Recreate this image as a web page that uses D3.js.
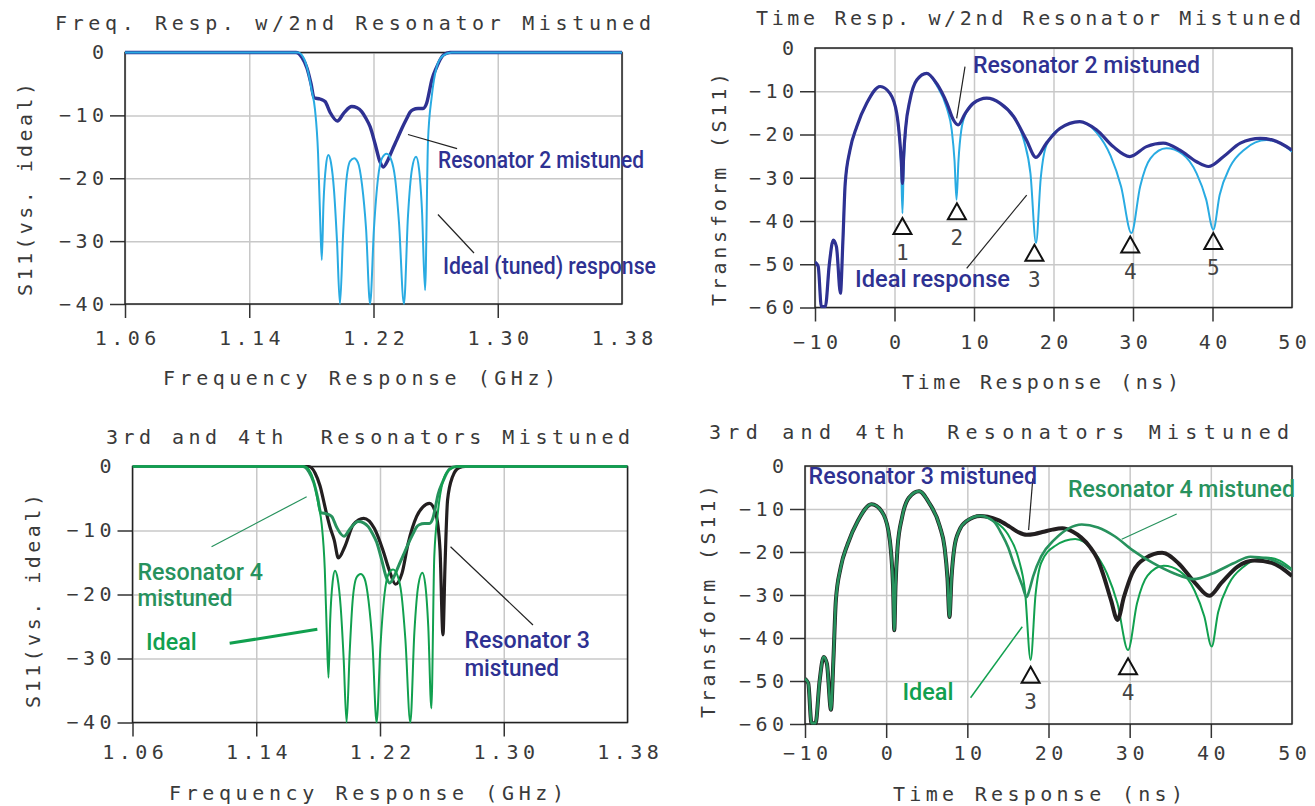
<!DOCTYPE html>
<html>
<head>
<meta charset="utf-8">
<script src="https://cdn.jsdelivr.net/npm/d3@7"></script>
<style>
  body { margin: 0; background: #fff; }
  svg { display: block; }
</style>
</head>
<body>
<script>
// ---- values ----
const freqTicks = [1.06, 1.14, 1.22, 1.30, 1.38];
const freqTickLabels = ["1.06", "1.14", "1.22", "1.30", "1.38"];
const timeTicks = [-10, 0, 10, 20, 30, 40, 50];
const timeTickLabels = ["\u221210", "0", "10", "20", "30", "40", "50"];
const dbTicksFreq = [0, -10, -20, -30, -40];
const dbTicksTime = [0, -10, -20, -30, -40, -50, -60];
const dbLabelsFreq = ["0", "\u221210", "\u221220", "\u221230", "\u221240"];
const dbLabelsTime = ["0", "\u221210", "\u221220", "\u221230", "\u221240", "\u221250", "\u221260"];

// frequency response [GHz, dB]
const freqIdeal = [
  [1.06, 0], [1.1714, 0], [1.1753, -1], [1.1778, -3], [1.1802, -6], [1.1823, -9], [1.1843, -16],
  [1.1856, -26], [1.1867, -33], [1.1878, -24], [1.1894, -18], [1.1909, -16.3], [1.1926, -17.5],
  [1.1946, -22], [1.1965, -30], [1.1984, -40], [1.2004, -29], [1.2023, -21], [1.2049, -17.3],
  [1.2075, -16.8], [1.2100, -17.5], [1.2126, -21], [1.2152, -28], [1.2178, -40], [1.2203, -28],
  [1.2229, -20], [1.2255, -16.8], [1.2285, -16.1], [1.2313, -17], [1.2339, -20], [1.2364, -27],
  [1.2396, -40], [1.2422, -26], [1.2448, -18.5], [1.2474, -16.6], [1.2493, -18.5], [1.2512, -25],
  [1.2532, -37.8], [1.2551, -14], [1.2575, -7], [1.2607, -2.3], [1.2648, -0.5], [1.2704, 0], [1.38, 0]
];
// one resonator mistuned (resonator 2 on top, resonator 4 below trace the same)
const freqMistuned = [
  [1.06, 0], [1.1701, 0], [1.1740, -0.8], [1.1772, -2.5], [1.1798, -5], [1.1817, -7.2], [1.1856, -7.4],
  [1.1888, -7.8], [1.1920, -9.5], [1.1967, -10.9], [1.2010, -9.6], [1.2060, -8.6], [1.2094, -8.8],
  [1.2124, -9.4], [1.2152, -10.5], [1.2178, -11.8], [1.2210, -14.5], [1.2242, -17.4], [1.2263, -18.2],
  [1.2293, -17.1], [1.2319, -15.6], [1.2350, -13.9], [1.2384, -12], [1.2414, -10.5], [1.2435, -9.5],
  [1.2454, -9.1], [1.2487, -8.9], [1.2519, -8.9], [1.2543, -8], [1.2557, -6.5], [1.2575, -4.4],
  [1.2607, -2.3], [1.2650, -0.4], [1.2693, 0], [1.38, 0]
];
const freqRes3 = [
  [1.06, 0], [1.1740, 0], [1.1780, -1], [1.1812, -3], [1.1849, -6.8], [1.1877, -9.5], [1.1904, -11.5],
  [1.1931, -14.3], [1.1973, -12.5], [1.2027, -9.1], [1.2095, -8.1], [1.2164, -9.7], [1.2218, -13],
  [1.2260, -16.2], [1.2300, -18.4], [1.2342, -16.7], [1.2382, -12], [1.2437, -7.8], [1.2478, -6.3],
  [1.2520, -5.75], [1.2560, -7.3], [1.2588, -13], [1.2607, -26.3], [1.2620, -15.7], [1.2637, -5.2],
  [1.2669, -1.6], [1.2711, -0.2], [1.2752, 0], [1.38, 0]
];

// time domain transform [ns, dB]
const timeEarly = [
  [-10, -49.5], [-9.6, -50.5], [-9.2, -59.8], [-8.7, -59.8], [-8.2, -50], [-7.7, -44.4], [-7.3, -46],
  [-6.8, -56.7], [-6.5, -45], [-6.2, -31.3], [-5.6, -23.6], [-4.75, -18.2], [-3.5, -12.8], [-1.8, -8.9],
  [-0.57, -10.5], [0.28, -15.1], [0.6, -20], [0.85, -28], [1.0, -38.2], [1.15, -28], [1.4, -19],
  [1.95, -12], [2.8, -7.4], [4.05, -5.85], [5.3, -8.6], [6.6, -14], [7.2, -19], [7.55, -26], [7.8, -35.1],
  [8.05, -26], [8.4, -19], [9, -15], [9.9, -12.8], [11.6, -11.6]
];
const timeIdealLate = [
  [13.3, -12.8], [15, -15.9], [16.3, -21.5], [17.1, -29], [17.8, -45.1], [18.4, -30], [19.1, -22.5],
  [20.8, -18.6], [23.3, -17], [25.4, -19.5], [27.2, -25], [28.5, -32], [29.8, -42.8], [30.9, -32],
  [32.2, -25.5], [34.2, -23.2], [36.2, -24.5], [38, -29], [39.2, -35], [40.1, -42], [40.9, -34],
  [42.2, -27.5], [44, -23.5], [46.8, -21.3], [48.5, -22], [50, -24]
];
const timeRes2 = [
  [-10, -49.5], [-9.6, -50.5], [-9.2, -59.8], [-8.7, -59.8], [-8.2, -50], [-7.7, -44.4], [-7.3, -46],
  [-6.8, -56.7], [-6.5, -45], [-6.2, -31.3], [-5.6, -23.6], [-4.75, -18.2], [-3.5, -12.8], [-1.8, -8.9],
  [-0.57, -10.5], [0.28, -15.1], [0.6, -20], [0.85, -26], [1.0, -31.3], [1.15, -25], [1.4, -18.5],
  [1.95, -12], [2.8, -7.4], [4.05, -5.85], [5.3, -8.2], [6.6, -12.8], [7.4, -16.6], [8.0, -17.8],
  [8.9, -15.1], [9.9, -12.8], [11.6, -11.6], [13.3, -12.8], [15, -15.9], [16.6, -21.3], [17.8, -25.3],
  [19.1, -22], [20.8, -18.6], [23.3, -17], [25.4, -18.9], [27.5, -22.8], [29.6, -25.1], [31.7, -22.8],
  [33.8, -22], [35.9, -23.6], [38, -26.3], [39.5, -27.4], [41.4, -25.1], [43.5, -22], [46, -20.9],
  [47.6, -21.3], [50, -23.6]
];
const timeRes3Late = [
  [12.5, -11.8], [13.8, -12.6], [15.2, -14.1], [16.3, -15.4], [17.3, -16], [18.3, -15.8], [19.4, -15.3],
  [20.5, -14.8], [21.7, -14.5], [23, -15.3], [24, -16.6], [25.1, -18.8], [26, -21.5], [26.7, -25],
  [27.7, -31.2], [28.5, -35.8], [29.3, -30.4], [30.3, -25], [31.9, -21.5], [34, -20.2], [36, -22.6],
  [38.1, -27.3], [39.8, -30.2], [41.3, -27.2], [43.3, -23.4], [45.4, -22], [47.5, -22.5], [50, -25.6]
];
const timeRes4Late = [
  [12.6, -12.1], [13.4, -13.2], [14.2, -15.7], [15, -18.8], [15.7, -22.6], [16.3, -25.5], [16.8, -28],
  [17.3, -30.5], [17.7, -28.5], [18.1, -25.7], [19.1, -21], [20.7, -17.2], [22.5, -14.5], [24.1, -13.6],
  [26.1, -14.3], [28.2, -16.4], [30.3, -19.5], [32.9, -22.6], [35.5, -25], [37.9, -26.3], [40.2, -25],
  [42.8, -22.6], [44.9, -21.1], [47, -21.5], [50, -24.2]
];
const timeIdeal = timeEarly.concat(timeIdealLate);

// null markers (time of null, dB of triangle tip)
const markerTimesTop = [1.0, 7.85, 17.6, 29.65, 40.1];
const markerDbTop = [-39.3, -35.9, -45.5, -43.6, -42.8];
const markerLabelsTop = ["1", "2", "3", "4", "5"];
const markerTimesBottom = [17.8, 29.8];
const markerDbBottom = [-46.7, -44.7];
const markerLabelsBottom = ["3", "4"];

// ---- drawing ----
const width = 1315, height = 806;
const monoFont = "'DejaVu Sans Mono', 'Liberation Mono', monospace";
const noteFont = "'Liberation Sans Narrow', 'Roboto', sans-serif";
const LS = 4.5; // plotter-style letter spacing

const NAVY = "#2e3192", SKY = "#29abe2", BLACK = "#231f20";
const GREEN = "#11a04f", GREEN_DK = "#27925d";
const INK = "#3a3a3a";

const svg = d3.select("body").append("svg")
  .attr("width", width)
  .attr("height", height);

let clipId = 0;

function drawPanel(cfg) {
  const x = d3.scaleLinear().domain(cfg.xDomain).range([cfg.left, cfg.right]);
  const y = d3.scaleLinear().domain(cfg.yDomain).range([cfg.top, cfg.bottom]);
  const g = svg.append("g");

  // grid lines
  g.append("g")
    .attr("transform", `translate(${cfg.left},0)`)
    .call(d3.axisRight(y).tickValues(cfg.yTicks).tickSize(cfg.right - cfg.left).tickFormat(""))
    .call(a => a.select(".domain").remove())
    .call(a => a.selectAll(".tick line").attr("stroke", "#c8c8c8").attr("stroke-width", 1.5));
  g.append("g")
    .attr("transform", `translate(0,${cfg.bottom})`)
    .call(d3.axisTop(x).tickValues(cfg.xTicks).tickSize(cfg.bottom - cfg.top).tickFormat(""))
    .call(a => a.select(".domain").remove())
    .call(a => a.selectAll(".tick line").attr("stroke", "#c8c8c8").attr("stroke-width", 1.5));

  // axes with outward ticks
  g.append("g")
    .attr("transform", `translate(${cfg.left},0)`)
    .call(d3.axisLeft(y).tickValues(cfg.yTicks).tickFormat((d, i) => cfg.yLabels[i])
      .tickSize(15).tickPadding(6 - LS))
    .call(a => a.select(".domain").remove())
    .call(a => a.selectAll(".tick line").attr("stroke", "#333").attr("stroke-width", 1.5)
      .filter(d => d === cfg.yTicks[0]).remove())
    .call(a => a.selectAll(".tick text")
      .attr("font-family", monoFont).attr("font-size", 20)
      .attr("letter-spacing", LS).attr("fill", INK));
  g.append("g")
    .attr("transform", `translate(0,${cfg.bottom})`)
    .call(d3.axisBottom(x).tickValues(cfg.xTicks).tickFormat((d, i) => cfg.xLabels[i])
      .tickSize(14).tickPadding(cfg.xPad))
    .call(a => a.select(".domain").remove())
    .call(a => a.selectAll(".tick line").attr("stroke", "#333").attr("stroke-width", 1.5)
      .filter(d => d === cfg.xTicks[cfg.xTicks.length - 1]).remove())
    .call(a => a.selectAll(".tick text")
      .attr("font-family", monoFont).attr("font-size", 20)
      .attr("letter-spacing", LS).attr("dx", LS / 2).attr("fill", INK));

  // frame
  g.append("rect")
    .attr("x", cfg.left).attr("y", cfg.top)
    .attr("width", cfg.right - cfg.left).attr("height", cfg.bottom - cfg.top)
    .attr("fill", "none").attr("stroke", "#222").attr("stroke-width", 1.5);

  // curves
  const id = "clip" + (clipId++);
  g.append("clipPath").attr("id", id)
    .append("rect")
    .attr("x", cfg.left).attr("y", cfg.top - 3)
    .attr("width", cfg.right - cfg.left).attr("height", cfg.bottom - cfg.top + 4);
  const line = d3.line()
    .x(d => x(d[0]))
    .y(d => y(d[1]))
    .curve(d3.curveMonotoneX);
  g.append("g").attr("clip-path", `url(#${id})`)
    .selectAll("path")
    .data(cfg.series)
    .join("path")
      .attr("d", d => line(d.values))
      .attr("fill", "none")
      .attr("stroke", d => d.color)
      .attr("stroke-width", d => d.width)
      .attr("stroke-linejoin", "round");

  // leader lines
  g.append("g").selectAll("line")
    .data(cfg.leaders)
    .join("line")
      .attr("x1", d => x(d.x1)).attr("y1", d => y(d.y1))
      .attr("x2", d => x(d.x2)).attr("y2", d => y(d.y2))
      .attr("stroke", d => d.color)
      .attr("stroke-width", d => d.width);

  // null markers
  const mk = g.append("g").selectAll("g")
    .data(cfg.markers)
    .join("g")
      .attr("transform", d => `translate(${x(d.t)},${y(d.db)})`);
  mk.append("path")
    .attr("d", "M0,0L9,16L-9,16Z")
    .attr("fill", "none")
    .attr("stroke", "#111")
    .attr("stroke-width", 2)
    .attr("stroke-linejoin", "miter");
  mk.append("text")
    .attr("y", 42)
    .attr("text-anchor", "middle")
    .attr("font-family", monoFont)
    .attr("font-size", 21)
    .attr("fill", "#444")
    .text(d => d.label);

  // callout texts
  g.append("g").selectAll("text")
    .data(cfg.notes)
    .join("text")
      .attr("x", d => x(d.x)).attr("y", d => y(d.y))
      .attr("textLength", d => d.w)
      .attr("lengthAdjust", "spacingAndGlyphs")
      .attr("font-family", noteFont)
      .attr("font-size", 23)
      .attr("font-weight", 500)
      .attr("fill", d => d.color)
      .text(d => d.text);

  // title and axis titles
  const plain = (t, px, py, len, rot) => g.append("text")
    .attr("transform", rot ? `translate(${px},${py}) rotate(-90)` : `translate(${px},${py})`)
    .attr("textLength", len)
    .attr("lengthAdjust", "spacing")
    .attr("font-family", monoFont)
    .attr("font-size", 20)
    .attr("fill", INK)
    .style("white-space", "pre")
    .text(t);
  plain(cfg.title, cfg.titlePos[0], cfg.titlePos[1], cfg.titlePos[2]);
  plain(cfg.xTitle, cfg.xTitlePos[0], cfg.xTitlePos[1], cfg.xTitlePos[2]);
  plain(cfg.yTitle, cfg.yTitlePos[0], cfg.yTitlePos[1], cfg.yTitlePos[2], true);
}

const mkMarkers = (ts, dbs, labels) => ts.map((t, i) => ({ t: t, db: dbs[i], label: labels[i] }));

// top left: frequency response, resonator 2 mistuned
drawPanel({
  left: 125, right: 622, top: 52.5, bottom: 304, xPad: 13,
  xDomain: [1.06, 1.38], yDomain: [0, -40],
  xTicks: freqTicks, xLabels: freqTickLabels, yTicks: dbTicksFreq, yLabels: dbLabelsFreq,
  series: [
    { values: freqMistuned, color: NAVY, width: 3.4 },
    { values: freqIdeal, color: SKY, width: 2 }
  ],
  leaders: [
    { x1: 1.2422, y1: -13.04, x2: 1.2738, y2: -15.28, color: "#222", width: 1.2 },
    { x1: 1.2615, y1: -25.77, x2: 1.2847, y2: -31.89, color: "#222", width: 1.2 }
  ],
  markers: [],
  notes: [
    { text: "Resonator 2 mistuned", x: 1.2615, y: -18.37, w: 206, color: NAVY },
    { text: "Ideal (tuned) response", x: 1.2647, y: -35.23, w: 213, color: NAVY }
  ],
  title: "Freq. Resp. w/2nd Resonator Mistuned", titlePos: [55, 30, 596],
  xTitle: "Frequency Response (GHz)", xTitlePos: [163, 385, 393],
  yTitle: "S11(vs. ideal)", yTitlePos: [32, 296, 213]
});

// top right: time response, resonator 2 mistuned
drawPanel({
  left: 815, right: 1292, top: 48, bottom: 307.5, xPad: 13,
  xDomain: [-10, 50], yDomain: [0, -60],
  xTicks: timeTicks, xLabels: timeTickLabels, yTicks: dbTicksTime, yLabels: dbLabelsTime,
  series: [
    { values: timeIdeal, color: SKY, width: 2 },
    { values: timeRes2, color: NAVY, width: 3.2 }
  ],
  leaders: [
    { x1: 8.87, y1: -4.32, x2: 7.82, y2: -16.25, color: "#222", width: 1.2 },
    { x1: 9.08, y1: -50.94, x2: 16.63, y2: -33.99, color: "#222", width: 1.2 }
  ],
  markers: mkMarkers(markerTimesTop, markerDbTop, markerLabelsTop),
  notes: [
    { text: "Resonator 2 mistuned", x: 9.87, y: -5.78, w: 227, color: NAVY },
    { text: "Ideal response", x: -4.97, y: -55.26, w: 155, color: NAVY }
  ],
  title: "Time Resp. w/2nd Resonator Mistuned", titlePos: [756, 25, 545],
  xTitle: "Time Response (ns)", xTitlePos: [902, 389, 277],
  yTitle: "Transform (S11)", yTitlePos: [726, 306, 233]
});

// bottom left: frequency response, resonators 3 and 4 mistuned
drawPanel({
  left: 132.5, right: 627.5, top: 466.5, bottom: 722.5, xPad: 8,
  xDomain: [1.06, 1.38], yDomain: [0, -40],
  xTicks: freqTicks, xLabels: freqTickLabels, yTicks: dbTicksFreq, yLabels: dbLabelsFreq,
  series: [
    { values: freqRes3, color: BLACK, width: 3.2 },
    { values: freqMistuned, color: GREEN_DK, width: 3 },
    { values: freqIdeal, color: GREEN, width: 2 }
  ],
  leaders: [
    { x1: 1.1111, y1: -12.53, x2: 1.1726, y2: -4.72, color: GREEN_DK, width: 1.2 },
    { x1: 1.1228, y1: -27.63, x2: 1.1795, y2: -25.44, color: GREEN, width: 3 },
    { x1: 1.2656, y1: -12.53, x2: 1.3189, y2: -24.77, color: "#222", width: 1.2 }
  ],
  markers: [],
  notes: [
    { text: "Resonator 4", x: 1.0632, y: -17.73, w: 125.5, color: GREEN_DK },
    { text: "mistuned", x: 1.0632, y: -21.8, w: 95, color: GREEN_DK },
    { text: "Ideal", x: 1.0687, y: -28.67, w: 50.7, color: GREEN },
    { text: "Resonator 3", x: 1.2746, y: -28.36, w: 125.5, color: NAVY },
    { text: "mistuned", x: 1.2746, y: -32.73, w: 94.5, color: NAVY }
  ],
  title: "3rd and 4th  Resonators Mistuned", titlePos: [106, 444, 524],
  xTitle: "Frequency Response (GHz)", xTitlePos: [169, 800, 395],
  yTitle: "S11(vs. ideal)", yTitlePos: [40, 708, 214]
});

// bottom right: time response, resonators 3 and 4 mistuned
drawPanel({
  left: 805, right: 1292, top: 466, bottom: 724, xPad: 8,
  xDomain: [-10, 50], yDomain: [0, -60],
  xTicks: timeTicks, xLabels: timeTickLabels, yTicks: dbTicksTime, yLabels: dbLabelsTime,
  series: [
    { values: timeIdeal, color: GREEN, width: 2 },
    { values: timeEarly.concat(timeRes3Late), color: BLACK, width: 4 },
    { values: timeEarly.concat(timeRes4Late), color: GREEN_DK, width: 2.6 }
  ],
  leaders: [
    { x1: 18.07, y1: -2.86, x2: 17.55, y2: -14.88, color: "#222", width: 1.2 },
    { x1: 35.79, y1: -11.16, x2: 29.02, y2: -17.05, color: GREEN_DK, width: 1.2 },
    { x1: 10.4, y1: -53.88, x2: 16.77, y2: -37.37, color: GREEN, width: 1.5 }
  ],
  markers: mkMarkers(markerTimesBottom, markerDbBottom, markerLabelsBottom),
  notes: [
    { text: "Resonator 3 mistuned", x: -9.56, y: -4.19, w: 228.5, color: NAVY },
    { text: "Resonator 4 mistuned", x: 22.4, y: -7.21, w: 227, color: GREEN_DK },
    { text: "Ideal", x: 2.01, y: -54.42, w: 51, color: GREEN }
  ],
  title: "3rd and 4th  Resonators Mistuned", titlePos: [709, 439, 580],
  xTitle: "Time Response (ns)", xTitlePos: [893, 801, 290],
  yTitle: "Transform (S11)", yTitlePos: [715, 718, 233]
});
</script>
</body>
</html>
